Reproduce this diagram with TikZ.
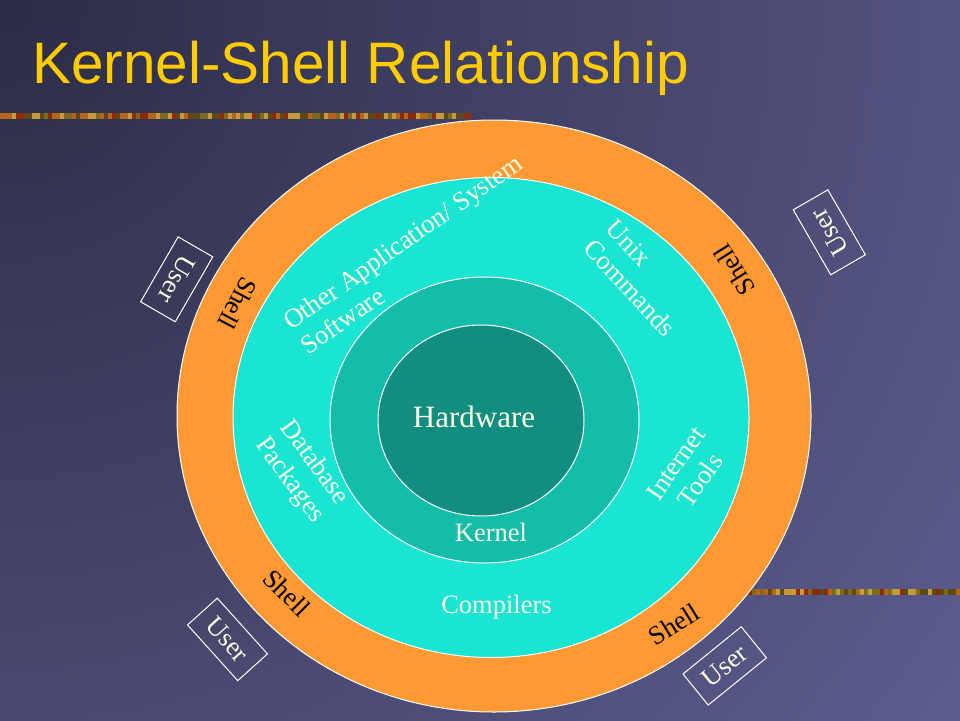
\documentclass[tikz,border=0pt]{standalone}
\usepackage{fontspec}
\setmainfont{Liberation Serif}
\newfontfamily\titlefont{Liberation Sans}
\usepackage{tikz}
\definecolor{bgdark}{HTML}{2C2C46}
\definecolor{bglight}{HTML}{65659B}
\definecolor{shellorange}{HTML}{FF9933}
\definecolor{appcyan}{HTML}{1AE5D3}
\definecolor{kernelteal}{HTML}{14BCAA}
\definecolor{hwteal}{HTML}{118E80}
\definecolor{cream}{HTML}{FFFFE5}
\definecolor{titleyellow}{HTML}{FFCC00}
\definecolor{bar0}{HTML}{8E2A0C}
\definecolor{bar1}{HTML}{7A6B22}
\definecolor{bar2}{HTML}{B5641C}
\definecolor{bar3}{HTML}{5C4A1E}
\definecolor{bar4}{HTML}{C49A3A}
\tikzset{
    ring/.style={draw=white, line width=1pt},
    ringtext/.style={text=cream, inner sep=0pt, font=\fontsize{26.5}{30}\selectfont},
    shelltext/.style={ringtext, text=black},
    userbox/.style={draw=white, line width=1pt, text=cream, inner sep=0pt,
        minimum width=75pt, minimum height=40pt, font=\fontsize{26.5}{30}\selectfont},
}

\begin{document}
\begin{tikzpicture}[x=1pt, y=-1pt]
    \useasboundingbox (0, 0) rectangle (960, 720);
    \begin{scope}
        \clip (0, 0) rectangle (960, 720);
        \shade[inner color=bgdark, outer color=bglight] (0, 0) circle (1400);
    \end{scope}
    \pgfmathsetseed{7}
    \fill[bar0] (0, 113) rectangle (471, 119);
    \foreach \i in {0,...,115}{
        \pgfmathtruncatemacro{\k}{random(0,4)}
        \fill[bar\k] (4*\i, 113) rectangle ++(4, 6);
    }
    \fill[bar0] (700, 589) rectangle (960, 595);
    \foreach \i in {0,...,64}{
        \pgfmathtruncatemacro{\k}{random(0,4)}
        \fill[bar\k] (700+4*\i, 589) rectangle ++(4, 6);
    }
    \node[anchor=base west, inner sep=0pt, text=titleyellow,
        font=\titlefont\fontsize{58.5}{60}\selectfont] (title) at (32, 83) {Kernel-Shell Relationship};
    \coordinate (S) at (494, 416);
    \coordinate (A) at (491, 417.5);
    \coordinate (K) at (484.5, 420);
    \coordinate (H) at (481, 420.5);
    \filldraw[ring, fill=shellorange] (S) ellipse [x radius=317, y radius=296];
    \filldraw[ring, fill=appcyan] (A) ellipse [x radius=258, y radius=240];
    \filldraw[ring, fill=kernelteal] (K) ellipse [x radius=154.5, y radius=143];
    \filldraw[ring, fill=hwteal] (H) ellipse [x radius=103, y radius=95.5];
    \node[ringtext, font=\fontsize{31}{34}\selectfont] (hardware) at (474, 416.5) {Hardware};
    \node[ringtext] (kernel) at (491, 532) {Kernel};
    \node[ringtext] (compilers) at (496.5, 607) {Compilers};
    \node[ringtext, rotate=35, align=left] (other) at (411, 254) {Other Application/ System\\Software};
    \node[ringtext, rotate=-47, align=left] (unix) at (641, 278) {Unix\\Commands};
    \node[ringtext, rotate=55, align=center] (internet) at (688, 472) {Internet\\Tools};
    \node[ringtext, rotate=-54, align=center] (database) at (301.5, 471.5) {Database\\Packages};
    \node[shelltext, rotate=-118] (shell1) at (237.5, 303.5) {Shell};
    \node[shelltext, rotate=122] (shell2) at (734.5, 270) {Shell};
    \node[shelltext, rotate=-45] (shell3) at (287, 593) {Shell};
    \node[shelltext, rotate=32] (shell4) at (674, 624) {Shell};
    \node[userbox, rotate=-120] (user1) at (176.7, 279.3) {User};
    \node[userbox, rotate=120] (user2) at (829.3, 232.3) {User};
    \node[userbox, rotate=-48] (user3) at (227.5, 639.4) {User};
    \node[userbox, rotate=39] (user4) at (724.7, 665.9) {User};
\end{tikzpicture}
\end{document}
